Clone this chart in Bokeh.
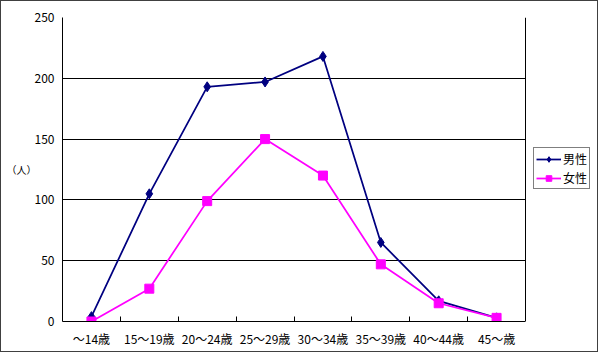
from bokeh.plotting import figure
from bokeh.models import FixedTicker, Legend, LegendItem, Range1d, BoxAnnotation, Span
from bokeh.embed import file_html
from bokeh.resources import INLINE

categories = ["～14歳", "15～19歳", "20～24歳", "25～29歳", "30～34歳", "35～39歳", "40～44歳", "45～歳"]
male = [4, 105, 193, 197, 218, 65, 17, 3]
female = [0, 27, 99, 150, 120, 47, 15, 3]
y_ticks = [0, 50, 100, 150, 200, 250]
y_title = "（人）"

FONT = "Noto Sans CJK JP"
n = len(categories)
xs = [i + 0.5 for i in range(n)]

# frame spans to the right edge so the legend sits inside it; the plot area is 0..n
W, H, LEFT = 598, 352, 61
frame_w = W - LEFT
plot_w = 463
x_end = n * frame_w / plot_w

p = figure(width=W, height=H, output_backend="svg", toolbar_location=None,
           x_range=Range1d(0, x_end), y_range=Range1d(0, 250),
           min_border_left=LEFT, min_border_right=0, min_border_top=16, min_border_bottom=32)
p.styles = {"border": "1px solid #404040"}
p.outline_line_color = None

# x axis: labels at centers, ticks at category boundaries
p.xaxis.ticker = FixedTicker(ticks=xs, minor_ticks=list(range(1, n)))
p.xaxis.major_label_overrides = {x: c for x, c in zip(xs, categories)}
p.xaxis.bounds = (0, n)
p.xaxis.major_tick_line_color = None
p.xaxis.major_tick_in = 0
p.xaxis.major_tick_out = 0
p.xaxis.minor_tick_in = 5
p.xaxis.minor_tick_out = 0
p.xaxis.minor_tick_line_color = "black"
p.xaxis.major_label_standoff = 8

p.yaxis.ticker = FixedTicker(ticks=y_ticks)
p.yaxis.major_tick_line_color = None
p.yaxis.minor_tick_line_color = None
p.yaxis.major_tick_in = 0
p.yaxis.major_tick_out = 0
p.yaxis.minor_tick_in = 0
p.yaxis.minor_tick_out = 0
p.yaxis.major_label_standoff = 8
p.yaxis.axis_label = y_title
p.yaxis.axis_label_orientation = "horizontal"
p.yaxis.axis_label_standoff = -5
p.yaxis.axis_label_text_font_style = "normal"
p.yaxis.axis_label_text_font = FONT
p.yaxis.axis_label_text_font_size = "10px"
p.yaxis.axis_label_text_color = "black"
p.yaxis.axis_label_text_baseline = "bottom"

for ax in (p.xaxis, p.yaxis):
    ax.axis_line_color = "black"
    ax.major_label_text_font = FONT
    ax.major_label_text_font_size = "12px"
    ax.major_label_text_color = "black"

p.xgrid.visible = False
p.ygrid.grid_line_color = "black"
p.ygrid.grid_line_width = 1

l1 = p.line(xs, male, line_color="#000080", line_width=1.75)
m1 = p.scatter(xs, male, marker="diamond", size=10, fill_color="#000080", line_color="#000080")
l2 = p.line(xs, female, line_color="#FF00FF", line_width=1.75)
m2 = p.scatter(xs, female, marker="square", size=9, fill_color="#FF00FF", line_color="#FF00FF")

# blank area right of the plot area, and the plot area's right border
p.add_layout(BoxAnnotation(left=n, fill_color="white", fill_alpha=1, line_color=None))
p.add_layout(Span(location=n, dimension="height", line_color="black", line_width=1))

legend = Legend(items=[LegendItem(label="男性", renderers=[l1, m1]),
                       LegendItem(label="女性", renderers=[l2, m2])],
                location=(471, 132))
legend.label_text_font = FONT
legend.label_text_font_size = "12px"
legend.label_text_color = "black"
legend.glyph_width = 25
legend.glyph_height = 14
legend.label_height = 14
legend.label_standoff = 2
legend.padding = 2
legend.spacing = 2
legend.margin = 0
legend.border_line_color = "black"
legend.border_line_width = 1
legend.background_fill_color = "white"
legend.background_fill_alpha = 1
p.add_layout(legend)

open("out.html", "w").write(file_html(p, INLINE))
